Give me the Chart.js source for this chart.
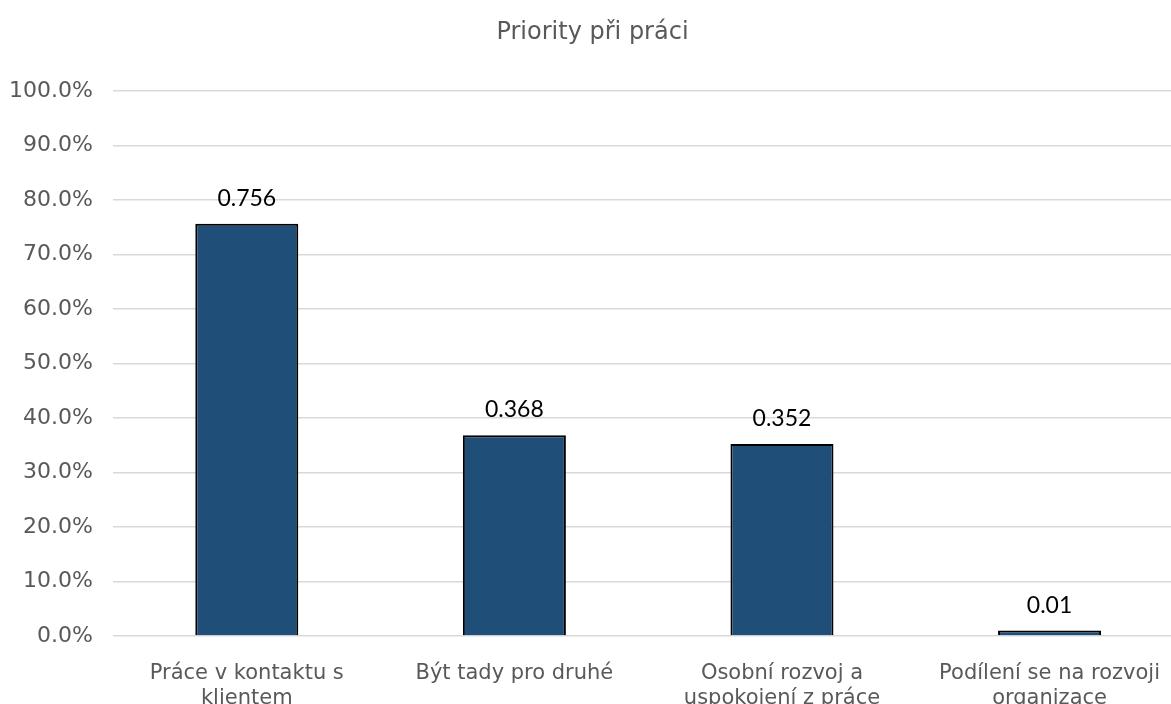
<!DOCTYPE html>
<html>
<head>
<meta charset="utf-8">
<script src="https://cdn.jsdelivr.net/npm/chart.js@4.4.1/dist/chart.umd.min.js"></script>
<style>
  html, body { margin: 0; padding: 0; background: #fff; overflow: hidden; }
  #wrap { position: absolute; left: 0; top: 0; }
</style>
</head>
<body>
<div id="wrap"><canvas id="chart" width="1185" height="720"></canvas></div>
<script>
// Categories (each entry is the list of lines of a wrapped label)
const categories = [
  ['Práce v kontaktu s', 'klientem'],
  ['Být tady pro druhé'],
  ['Osobní rozvoj a', 'uspokojení z práce'],
  ['Podílení se na rozvoji', 'organizace']
];
// Share of respondents per priority
const shares = [0.756, 0.368, 0.352, 0.01];
// Value axis range and step
const axisMin = 0;
const axisMax = 1;
const axisStep = 0.1;

const fontFamily = 'DejaVu Sans, Verdana, sans-serif';
const grey = '#595959';

// Writes each bar's value just above it
const valueLabels = {
  id: 'valueLabels',
  afterDatasetsDraw(chart) {
    const ctx = chart.ctx;
    const meta = chart.getDatasetMeta(0);
    ctx.save();
    ctx.font = '23px Lato, "Liberation Sans", sans-serif';
    ctx.fillStyle = '#000';
    ctx.textAlign = 'center';
    ctx.textBaseline = 'alphabetic';
    meta.data.forEach((bar, i) => {
      ctx.fillText(String(shares[i]), bar.x, bar.y - 18);
    });
    ctx.restore();
  }
};

new Chart(document.getElementById('chart'), {
  type: 'bar',
  data: {
    labels: categories,
    datasets: [{
      data: shares,
      backgroundColor: '#1F4E79',
      borderColor: '#000000',
      borderWidth: 2,
      barPercentage: 0.385,
      categoryPercentage: 1.0
    }]
  },
  options: {
    responsive: false,
    animation: false,
    devicePixelRatio: 1,
    layout: { padding: { left: 0, right: 0, top: 0, bottom: 0 } },
    plugins: {
      legend: { display: false },
      tooltip: { enabled: false },
      title: {
        display: true,
        text: 'Priority při práci',
        color: grey,
        font: { family: fontFamily, size: 24, weight: 'normal' },
        padding: { top: 18, bottom: 44 }
      }
    },
    scales: {
      x: {
        grid: { display: false, drawTicks: false },
        border: { display: false },
        ticks: {
          color: grey,
          font: { family: fontFamily, size: 21 },
          padding: 25,
          maxRotation: 0,
          autoSkip: false
        },
        afterFit(scale) { scale.height = 84; }
      },
      y: {
        min: axisMin,
        max: axisMax,
        grid: { color: '#d9d9d9', lineWidth: 1.5, drawTicks: false },
        border: { display: false },
        ticks: {
          stepSize: axisStep,
          color: grey,
          font: { family: fontFamily, size: 22 },
          padding: 20,
          callback: v => (v * 100).toFixed(1) + '%'
        },
        afterFit(scale) { scale.width = 113; }
      }
    }
  },
  plugins: [valueLabels]
});
</script>
</body>
</html>
